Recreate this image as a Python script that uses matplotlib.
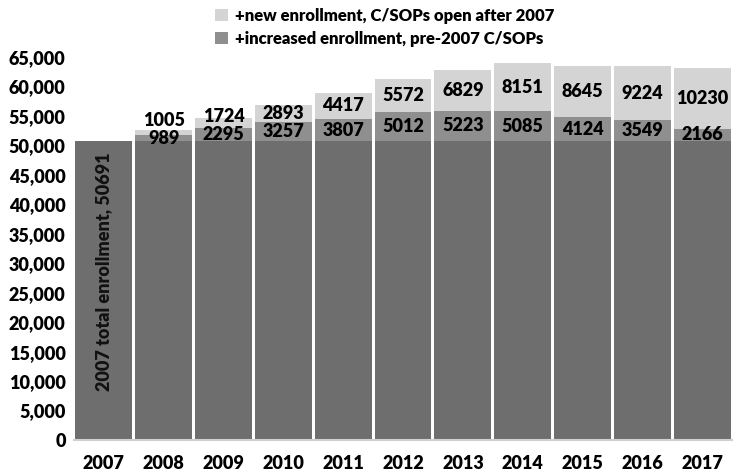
import matplotlib
matplotlib.use("Agg")
import matplotlib.pyplot as plt
from matplotlib.ticker import FuncFormatter

years = ["2007", "2008", "2009", "2010", "2011", "2012", "2013", "2014", "2015", "2016", "2017"]
base_2007 = [50691] * 11
increased = [0, 989, 2295, 3257, 3807, 5012, 5223, 5085, 4124, 3549, 2166]
new_enroll = [0, 1005, 1724, 2893, 4417, 5572, 6829, 8151, 8645, 9224, 10230]

C_BASE = "#6e6e6e"
C_INC = "#8f8f8f"
C_NEW = "#d4d4d4"
FONT = "Lato"
W = "heavy"

fig = plt.figure(figsize=(7.42, 4.73), dpi=100)
ax = fig.add_axes([0.0997, 0.0698, 0.887, 0.8097])

x = range(len(years))
w = 0.95
ax.bar(x, base_2007, width=w, color=C_BASE, zorder=2)
bottom_new = [b + i for b, i in zip(base_2007, increased)]
ax.bar(x, increased, width=w, bottom=base_2007, color=C_INC, zorder=2,
       label="+increased enrollment, pre-2007 C/SOPs")
ax.bar(x, new_enroll, width=w, bottom=bottom_new, color=C_NEW, zorder=2,
       label="+new enrollment, C/SOPs open after 2007")

# segment labels, nudged apart where segments are thin
for i in range(1, len(years)):
    y_inc = base_2007[i] + increased[i] / 2
    y_new = max(bottom_new[i] + new_enroll[i] / 2, y_inc + 3000)
    ax.text(i, y_inc, str(increased[i]), ha="center", va="center",
            fontsize=13, fontweight=W, family=FONT, color="black", zorder=3)
    ax.text(i, y_new, str(new_enroll[i]), ha="center", va="center",
            fontsize=13, fontweight=W, family=FONT, color="black", zorder=3)

ax.text(0, 28500, f"2007 total enrollment, {base_2007[0]}", rotation=90,
        ha="center", va="center", fontsize=13, fontweight=W,
        family=FONT, color="#111111", zorder=3)

ax.set_xlim(-0.5, len(years) - 0.5)
ax.set_ylim(0, 65000)
ax.set_yticks(range(0, 65001, 5000))
ax.yaxis.set_major_formatter(FuncFormatter(lambda v, p: f"{int(v):,}"))
ax.set_xticks(list(x))
ax.set_xticklabels(years)

for s in ["top", "right", "left"]:
    ax.spines[s].set_visible(False)
ax.spines["bottom"].set_color("#d0d0d0")
ax.spines["bottom"].set_linewidth(1.5)
ax.tick_params(axis="both", length=0, labelsize=13, pad=6)
ax.tick_params(axis="x", pad=11)
for lbl in ax.get_xticklabels() + ax.get_yticklabels():
    lbl.set_fontfamily(FONT)
    lbl.set_fontweight(W)

handles, labels = ax.get_legend_handles_labels()
fig.legend(handles[::-1], labels[::-1], loc="upper left",
           bbox_to_anchor=(0.27, 1.015), frameon=False, ncol=1,
           handlelength=0.75, handleheight=0.75, handletextpad=0.4,
           labelspacing=0.4,
           prop={"family": FONT, "weight": W, "size": 12})

fig.savefig("out.png", dpi=100)
